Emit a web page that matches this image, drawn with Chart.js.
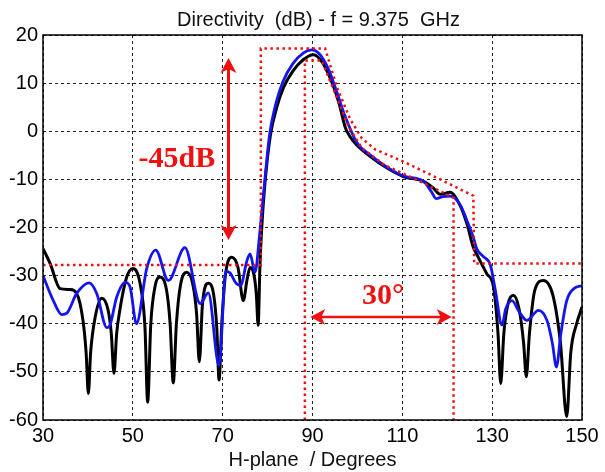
<!DOCTYPE html>
<html>
<head>
<meta charset="utf-8">
<script src="https://cdn.jsdelivr.net/npm/chart.js@4/dist/chart.umd.min.js"></script>
<style>
  html, body { margin: 0; padding: 0; background: #fff; }
  #wrap { width: 605px; height: 472px; }
</style>
</head>
<body>
<div id="wrap"><canvas id="myChart" width="605" height="472"></canvas></div>
<script>
// measured pattern (black)
const measAngle = [30, 31.6, 33.8, 36, 37.5, 38.9, 39.6, 40.1, 40.6, 41.6, 43.1, 44.5, 45.2, 45.8, 46.4, 47.1, 48.6, 50, 51.6, 52.7, 53.3, 54, 55, 56, 57.5, 58.3, 59, 59.7, 60.6, 62, 63.4, 64.2, 64.8, 65.5, 66.8, 68, 68.7, 69.2, 69.8, 70.6, 72, 73.4, 74.6, 75.4, 76.1, 77, 77.5, 77.9, 78.3, 78.7, 79.4, 80.6, 82, 83.5, 85.7, 88, 90.2, 92.4, 94.6, 96, 97.3, 98.4, 99.9, 102.8, 106.5, 110.2, 114.7, 116.9, 118.4, 120.6, 122.9, 124.4, 125.8, 126.8, 128.8, 130.3, 131.3, 131.9, 132.6, 133.5, 134.7, 136, 137, 137.6, 138.3, 139.5, 141.4, 143.5, 145.2, 146.6, 147.5, 148.8, 150];
const measDb = [-24.4, -27.5, -32.7, -32.9, -33.7, -39.3, -46, -54.5, -46, -38.7, -34.7, -37.2, -42, -50.3, -42, -37.2, -30.4, -28.5, -31.6, -40.7, -56.3, -40, -32, -30.3, -33, -40, -52.3, -40, -32, -29.3, -32, -38, -47.9, -36, -31.6, -34, -41, -51.7, -40, -30, -26.2, -28.3, -35.2, -31, -28.3, -30, -34, -40.3, -28, -20, -11, -1, 4.8, 9, 12.6, 14.9, 15.9, 14.0, 9.5, 5.5, 0.8, -1.2, -2.9, -5.2, -7.6, -9.4, -10.4, -11.8, -13.1, -12.7, -15.5, -19.3, -24.1, -26, -29.6, -32.4, -42, -52.4, -42, -36, -34.1, -37, -44, -51, -42, -33, -31, -34, -44, -59.3, -46, -40, -36.5];

// simulated pattern (blue)
const simAngle = [30, 32.3, 34.2, 35.3, 37.5, 40.3, 42, 44.2, 44.9, 46.4, 48.3, 49.4, 50.8, 53.1, 55.1, 57.9, 61.6, 65, 66.8, 69.2, 70.7, 71.6, 73.1, 74, 75.4, 76.1, 77.2, 78.3, 79.2, 80.4, 81.8, 83.4, 85.6, 88, 89.8, 91.5, 93.5, 95.4, 97.3, 99.9, 102.8, 106.5, 110.2, 114.7, 116.5, 117.5, 119, 120.6, 122.9, 124.4, 125.8, 126.6, 128, 129.6, 130.7, 132.2, 133, 134.4, 136, 137.7, 140.3, 142.2, 143.4, 144.3, 145.3, 146.6, 148.5, 150];
const simDb = [-30, -35.2, -38.1, -37.8, -33.7, -31.5, -33.8, -40.8, -40.3, -34.5, -31.4, -32.4, -40, -28.5, -24.7, -31, -24.2, -35.8, -33.6, -48.7, -29.1, -29.4, -31.7, -32, -26.9, -25.5, -29.3, -20.7, -12, -1, 5.6, 10.3, 14, 16.3, 16.9, 16.1, 13, 8.2, 3, -2.4, -4.9, -7.4, -9.3, -10.4, -12.6, -14, -13.6, -13.5, -15.3, -18.6, -22, -24.5, -26, -27.8, -33, -40.3, -37, -35.2, -37.5, -39.3, -37.2, -39.3, -44, -49, -42, -35.2, -32.5, -32.1];

// template mask (red dotted)
const outerMaskX = [30, 78.5, 78.5, 92.8, 95.5, 98.4, 101, 104, 110, 118, 125.8, 126, 150];
const outerMaskY = [-27.8, -27.8, 17.2, 17.2, 9, 2.5, -1.5, -3.8, -6.2, -9.8, -13.4, -27.5, -27.5];
const innerMaskX = [88.3, 88.3, 92, 95, 98, 101, 106, 113, 121.4, 121.4];
const innerMaskY = [-60, 14.7, 14.7, 8, 1, -3.5, -7, -10, -13.8, -60];

// axes
const xTicks = [30, 50, 70, 90, 110, 130, 150];
const yTicks = [-60, -50, -40, -30, -20, -10, 0, 10, 20];

// annotations: [x, yFrom, yTo] and [y, xFrom, xTo]
const levelArrow = [71.3, 15.2, -22.6];
const widthArrow = [-38.6, 89.5, 121];
const levelLabel = ['-45dB', 59.8, -5.8];
const widthLabel = ['30°', 105.7, -34.3];

const titleText = 'Directivity  (dB) - f = 9.375  GHz';
const xTitle = 'H-plane  / Degrees';

function pts(xs, ys) {
  return xs.map((x, i) => ({ x: x, y: ys[i] }));
}

const RED = '#f01010';

function arrowHead(ctx, x, y, dir) {
  // dir: angle the tip points to
  const len = 15, half = 8;
  ctx.save();
  ctx.translate(x, y);
  ctx.rotate(dir);
  ctx.beginPath();
  ctx.moveTo(0, 0);
  ctx.lineTo(-len, -half);
  ctx.lineTo(-len + 4, 0);
  ctx.lineTo(-len, half);
  ctx.closePath();
  ctx.fill();
  ctx.restore();
}

const extras = {
  id: 'extras',
  afterDatasetsDraw(chart) {
    const ctx = chart.ctx;
    const xs = chart.scales.x, ys = chart.scales.y;
    const a = chart.chartArea;

    // box
    ctx.save();
    ctx.strokeStyle = '#000';
    ctx.lineWidth = 1.5;
    ctx.strokeRect(a.left, a.top, a.right - a.left, a.bottom - a.top);

    // arrows
    ctx.strokeStyle = RED;
    ctx.fillStyle = RED;
    ctx.lineWidth = 3;
    let px = xs.getPixelForValue(levelArrow[0]);
    let p1 = ys.getPixelForValue(levelArrow[1]);
    let p2 = ys.getPixelForValue(levelArrow[2]);
    ctx.beginPath();
    ctx.moveTo(px, p1 + 10);
    ctx.lineTo(px, p2 - 10);
    ctx.stroke();
    arrowHead(ctx, px, p1, -Math.PI / 2);
    arrowHead(ctx, px, p2, Math.PI / 2);

    let py = ys.getPixelForValue(widthArrow[0]);
    let q1 = xs.getPixelForValue(widthArrow[1]);
    let q2 = xs.getPixelForValue(widthArrow[2]);
    ctx.lineWidth = 2.5;
    ctx.beginPath();
    ctx.moveTo(q1 + 10, py);
    ctx.lineTo(q2 - 10, py);
    ctx.stroke();
    arrowHead(ctx, q1, py, Math.PI);
    arrowHead(ctx, q2, py, 0);

    // labels
    ctx.font = 'bold 30px "Liberation Serif"';
    ctx.textAlign = 'center';
    ctx.textBaseline = 'middle';
    ctx.fillText(levelLabel[0], xs.getPixelForValue(levelLabel[1]), ys.getPixelForValue(levelLabel[2]));
    ctx.fillText(widthLabel[0], xs.getPixelForValue(widthLabel[1]), ys.getPixelForValue(widthLabel[2]));

    // title
    ctx.fillStyle = '#111';
    ctx.font = '20px "Liberation Sans"';
    ctx.textBaseline = 'middle';
    ctx.fillText(titleText, (a.left + a.right) / 2 + 6, 20);
    ctx.restore();
  }
};

const ctx = document.getElementById('myChart');
new Chart(ctx, {
  type: 'scatter',
  data: {
    datasets: [
      {
        label: 'measured',
        data: pts(measAngle, measDb),
        showLine: true,
        borderColor: '#000',
        borderWidth: 3,
        pointRadius: 0,
        cubicInterpolationMode: 'monotone',
        order: 3
      },
      {
        label: 'simulated',
        data: pts(simAngle, simDb),
        showLine: true,
        borderColor: '#1414f0',
        borderWidth: 2.8,
        pointRadius: 0,
        cubicInterpolationMode: 'monotone',
        order: 2
      },
      {
        label: 'outer mask',
        data: pts(outerMaskX, outerMaskY),
        showLine: true,
        borderColor: RED,
        borderWidth: 2.5,
        borderDash: [2.5, 3.5],
        pointRadius: 0,
        tension: 0,
        order: 1
      },
      {
        label: 'inner mask',
        data: pts(innerMaskX, innerMaskY),
        showLine: true,
        borderColor: RED,
        borderWidth: 2.5,
        borderDash: [2.5, 3.5],
        pointRadius: 0,
        tension: 0,
        order: 0
      }
    ]
  },
  options: {
    responsive: false,
    animation: false,
    layout: { padding: { top: 35, right: 23, left: 0, bottom: 0 } },
    plugins: {
      legend: { display: false },
      tooltip: { enabled: false },
      title: { display: false }
    },
    scales: {
      x: {
        type: 'linear',
        min: 30,
        max: 150,
        afterBuildTicks: (s) => { s.ticks = xTicks.map(v => ({ value: v })); },
        afterFit: (s) => { s.height = 52; },
        grid: { color: '#222', lineWidth: 1, drawTicks: false },
        border: { display: false, dash: [3, 3] },
        ticks: {
          color: '#000',
          font: { family: 'Liberation Sans', size: 20 },
          padding: 4,
          maxRotation: 0
        },
        title: {
          display: true,
          text: xTitle,
          color: '#111',
          font: { family: 'Liberation Sans', size: 20 },
          padding: { top: 0, bottom: 0 }
        }
      },
      y: {
        min: -60,
        max: 20,
        afterBuildTicks: (s) => { s.ticks = yTicks.map(v => ({ value: v })); },
        afterFit: (s) => { s.width = 43; },
        grid: { color: '#222', lineWidth: 1, drawTicks: false },
        border: { display: false, dash: [3, 3] },
        ticks: {
          color: '#000',
          font: { family: 'Liberation Sans', size: 20 },
          padding: 5
        }
      }
    }
  },
  plugins: [extras]
});
</script>
</body>
</html>
